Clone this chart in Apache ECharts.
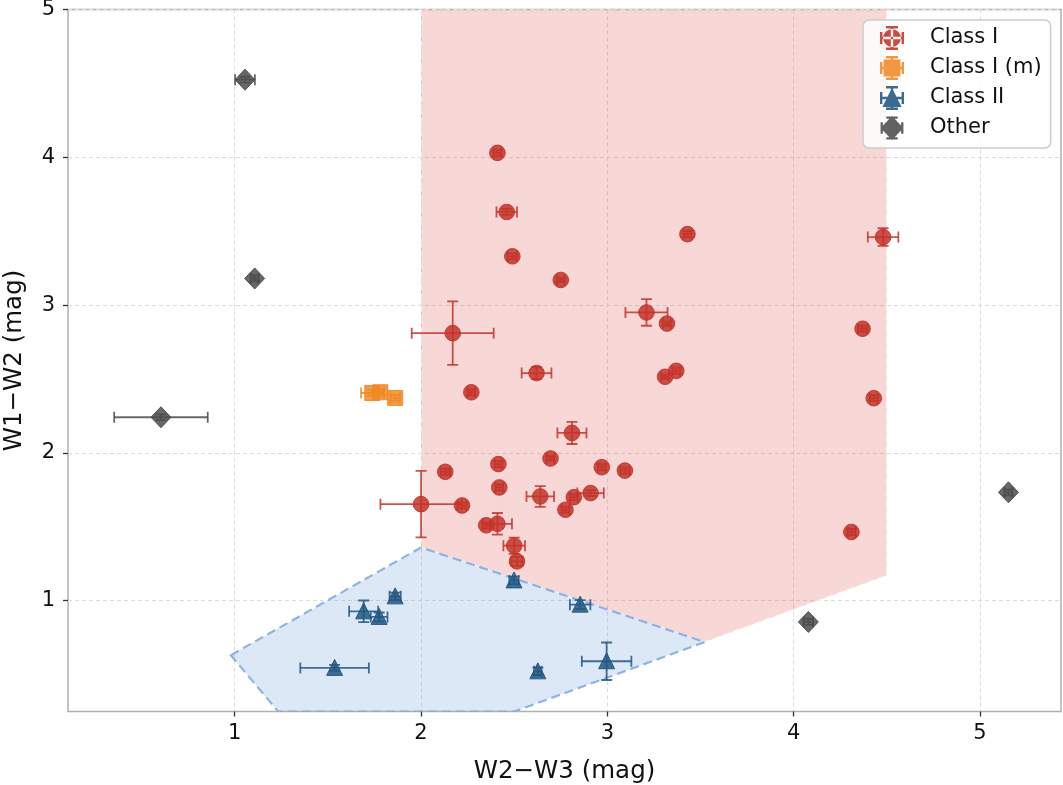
<!DOCTYPE html>
<html>
<head>
<meta charset="utf-8">
<title>W1-W2 vs W2-W3</title>
<script src="https://cdn.jsdelivr.net/npm/echarts@6/dist/echarts.min.js"></script>
<style>
html, body { margin: 0; padding: 0; background: #fff; }
#picture { width: 1063px; height: 785px; }
</style>
</head>
<body>
<div id="picture"></div>
<script>
// rows: [W2-W3, W1-W2, err(W2-W3), err(W1-W2)]
var classI = [
    [2.41, 4.03, 0.02, 0.02], [2.46, 3.63, 0.055, 0.02], [3.43, 3.48, 0.02, 0.02],
    [4.48, 3.46, 0.082, 0.06], [2.49, 3.33, 0.025, 0.02], [2.75, 3.17, 0.02, 0.015],
    [2.17, 2.81, 0.22, 0.215], [3.21, 2.95, 0.113, 0.09], [3.32, 2.875, 0.02, 0.015],
    [3.31, 2.515, 0.02, 0.015], [3.37, 2.555, 0.02, 0.02], [2.62, 2.54, 0.08, 0.04],
    [2.27, 2.41, 0.02, 0.02], [4.37, 2.84, 0.025, 0.02], [4.43, 2.37, 0.02, 0.02],
    [4.31, 1.465, 0.02, 0.02], [2.81, 2.135, 0.078, 0.075], [2.13, 1.872, 0.025, 0.02],
    [2.415, 1.924, 0.02, 0.02], [2.42, 1.766, 0.02, 0.02], [2.695, 1.962, 0.02, 0.015],
    [2.97, 1.903, 0.02, 0.02], [3.094, 1.88, 0.025, 0.02], [2.0, 1.653, 0.218, 0.225],
    [2.22, 1.644, 0.025, 0.02], [2.64, 1.705, 0.074, 0.07], [2.82, 1.70, 0.02, 0.02],
    [2.91, 1.728, 0.071, 0.02], [2.775, 1.615, 0.02, 0.02], [2.35, 1.51, 0.02, 0.02],
    [2.41, 1.52, 0.078, 0.073], [2.50, 1.372, 0.058, 0.055], [2.515, 1.266, 0.03, 0.03]
];
var classIm = [
    [1.738, 2.405, 0.06, 0.02], [1.781, 2.41, 0.02, 0.02], [1.861, 2.372, 0.025, 0.02]
];
var classII = [
    [1.692, 0.928, 0.078, 0.073], [1.775, 0.89, 0.045, 0.03], [1.861, 1.029, 0.03, 0.025],
    [1.536, 0.545, 0.184, 0.02], [2.499, 1.137, 0.025, 0.025], [2.854, 0.973, 0.055, 0.03],
    [2.627, 0.522, 0.02, 0.025], [2.996, 0.59, 0.133, 0.127]
];
var other = [
    [1.055, 4.525, 0.053, 0.02], [1.107, 3.18, 0.02, 0.02], [0.604, 2.241, 0.251, 0.02],
    [5.153, 1.733, 0.02, 0.02], [4.079, 0.856, 0.025, 0.02]
];

// colour-colour selection regions (corner points)
var classIRegion = [[2, 5], [4.5, 5], [4.5, 1.17], [3.523, 0.72], [2, 1.36]];
var classIIRegion = [[0.979, 0.631], [2, 1.36], [3.523, 0.72], [2.5, 0.25], [1.233, 0.25]];

var xTicks = [1, 2, 3, 4, 5];
var yTicks = [1, 2, 3, 4, 5];

var FONT = 'DejaVu Sans';

var BAR = 'M2 11h20v2H2z M2 7h2v10H2z M20 7h2v10h-2z M11 2h2v20h-2z M7 2h10v2H7z M7 20h10v2H7z ';
var icons = {
    circle: 'path://' + BAR + 'M4.5 12a7.5 7.5 0 1 0 15 0a7.5 7.5 0 1 0 -15 0z',
    rect: 'path://' + BAR + 'M5 5h14v14H5z',
    triangle: 'path://' + BAR + 'M12 3.5L20 19.5H4z',
    diamond: 'path://' + BAR + 'M12 1.5L22 12L12 22.5L2 12z'
};

function rgba(hex, a) {
    var n = parseInt(hex.slice(1), 16);
    return 'rgba(' + (n >> 16) + ',' + ((n >> 8) & 255) + ',' + (n & 255) + ',' + a + ')';
}

function marker(shape, c, color) {
    var st = { fill: rgba(color, 0.85), stroke: rgba(color, 0.95), lineWidth: 1 };
    var x = c[0], y = c[1];
    if (shape == 'circle') {
        return { type: 'circle', shape: { cx: x, cy: y, r: 7.8 }, style: st };
    } else if (shape == 'rect') {
        return { type: 'rect', shape: { x: x - 7.5, y: y - 7.5, width: 15, height: 15 }, style: st };
    } else if (shape == 'triangle') {
        return { type: 'polygon', shape: { points: [[x, y - 8.5], [x - 8, y + 7.5], [x + 8, y + 7.5]] }, style: st };
    }
    return { type: 'polygon', shape: { points: [[x, y - 10.5], [x + 10, y], [x, y + 10.5], [x - 10, y]] }, style: st };
}

function pointSeries(name, data, color, shape) {
    return {
        name: name,
        type: 'custom',
        data: data,
        encode: { x: 0, y: 1 },
        itemStyle: { color: color },
        clip: true,
        renderItem: function (params, api) {
            var x = api.value(0), y = api.value(1), ex = api.value(2), ey = api.value(3);
            var c = api.coord([x, y]);
            var l = api.coord([x - ex, y])[0], r = api.coord([x + ex, y])[0];
            var t = api.coord([x, y + ey])[1], b = api.coord([x, y - ey])[1];
            var bar = { stroke: rgba(color, 0.85), lineWidth: 1.8 };
            var cap = 5.5;
            var kids = [
                { type: 'line', shape: { x1: l, y1: c[1], x2: r, y2: c[1] }, style: bar },
                { type: 'line', shape: { x1: l, y1: c[1] - cap, x2: l, y2: c[1] + cap }, style: bar },
                { type: 'line', shape: { x1: r, y1: c[1] - cap, x2: r, y2: c[1] + cap }, style: bar },
                { type: 'line', shape: { x1: c[0], y1: t, x2: c[0], y2: b }, style: bar },
                { type: 'line', shape: { x1: c[0] - cap, y1: t, x2: c[0] + cap, y2: t }, style: bar },
                { type: 'line', shape: { x1: c[0] - cap, y1: b, x2: c[0] + cap, y2: b }, style: bar }
            ];
            kids.push(marker(shape, c, color));
            return { type: 'group', children: kids };
        }
    };
}

function regionSeries(name, region, fill, stroke, dash, width) {
    return {
        name: name,
        type: 'custom',
        data: region,
        encode: { x: 0, y: 1 },
        clip: true,
        silent: true,
        renderItem: function (params, api) {
            if (params.dataIndex !== 0) return;
            return {
                type: 'polygon',
                shape: { points: region.map(function (p) { return api.coord(p); }) },
                style: { fill: fill, stroke: stroke, lineWidth: width, lineDash: dash }
            };
        }
    };
}

var C1 = '#c3342a', C1m = '#f08a25', C2 = '#225781', CO = '#4c4c4c';

var myChart = echarts.init(document.getElementById('picture'));
var option = {
    backgroundColor: '#ffffff',
    animation: false,
    textStyle: { fontFamily: FONT },
    grid: {
        left: 68, right: 2, top: 9.5, bottom: 73.5,
        outerBoundsMode: 'none',
        containLabel: false,
        show: true, borderColor: '#b0b0b0', borderWidth: 1.5
    },
    legend: {
        orient: 'vertical',
        left: 863, top: 20,
        padding: [6, 9, 8, 17],
        itemGap: 6,
        itemWidth: 24, itemHeight: 24,
        backgroundColor: 'rgba(255,255,255,0.85)',
        borderColor: '#cccccc', borderWidth: 1.5, borderRadius: 6,
        textStyle: { fontFamily: FONT, fontSize: 21, color: '#111', padding: [0, 0, 0, 21] },
        data: [
            { name: 'Class I', icon: icons.circle, itemStyle: { color: C1, opacity: 0.88 } },
            { name: 'Class I (m)', icon: icons.rect, itemStyle: { color: C1m, opacity: 0.88 } },
            { name: 'Class II', icon: icons.triangle, itemStyle: { color: C2, opacity: 0.88 } },
            { name: 'Other', icon: icons.diamond, itemStyle: { color: CO, opacity: 0.88 } }
        ]
    },
    xAxis: {
        type: 'value',
        min: 0.105, max: 5.435,
        name: 'W2\u2212W3 (mag)',
        nameLocation: 'middle',
        nameGap: 48,
        nameTextStyle: { fontFamily: FONT, fontSize: 24.5, color: '#111' },
        axisLine: { show: false },
        axisTick: { show: true, customValues: xTicks, length: 5, lineStyle: { color: '#333', width: 1.3 } },
        axisLabel: { customValues: xTicks, margin: 12, fontFamily: FONT, fontSize: 21, color: '#111' },
        splitLine: { show: true, lineStyle: { color: '#dcdcdc', type: [4, 3], width: 1 } }
    },
    yAxis: {
        type: 'value',
        min: 0.25, max: 5,
        name: 'W1\u2212W2 (mag)',
        nameLocation: 'middle',
        nameGap: 41,
        nameRotate: 90,
        nameTextStyle: { fontFamily: FONT, fontSize: 24.5, color: '#111' },
        axisLine: { show: false },
        axisTick: { show: true, customValues: yTicks, length: 5, lineStyle: { color: '#333', width: 1.3 } },
        axisLabel: { customValues: yTicks, margin: 13, fontFamily: FONT, fontSize: 21, color: '#111' },
        splitLine: { show: true, lineStyle: { color: '#dcdcdc', type: [4, 3], width: 1 } }
    },
    series: [
        regionSeries('Class I region', classIRegion, 'rgba(224,88,80,0.23)', 'rgba(255,255,255,0.6)', [7, 4], 1.5),
        regionSeries('Class II region', classIIRegion, 'rgba(100,150,220,0.22)', 'rgba(125,168,226,0.85)', [9, 5], 2.2),
        pointSeries('Class I', classI, C1, 'circle'),
        pointSeries('Class I (m)', classIm, C1m, 'rect'),
        pointSeries('Class II', classII, C2, 'triangle'),
        pointSeries('Other', other, CO, 'diamond')
    ]
};
myChart.setOption(option);
</script>
</body>
</html>
